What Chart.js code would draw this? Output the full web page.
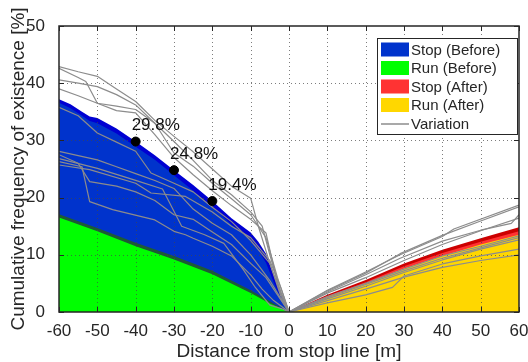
<!DOCTYPE html>
<html>
<head>
<meta charset="utf-8">
<script src="https://cdn.jsdelivr.net/npm/chart.js@4.4.0/dist/chart.umd.min.js"></script>
<style>
  html, body { margin: 0; padding: 0; background: #fff; }
  #wrap { width: 528px; height: 362px; }
</style>
</head>
<body>
<div id="wrap"><canvas id="c" width="528" height="362"></canvas></div>
<script>
// ---- axis ticks ----
const xTickValues = [-60, -50, -40, -30, -20, -10, 0, 10, 20, 30, 40, 50, 60];
const yTickValues = [0, 10, 20, 30, 40, 50];

// ---- before improvement (approach side, negative distance) ----
const stopBeforeX     = [-60, -57, -54, -52, -50, -45, -40, -35, -30, -25, -20, -15, -10, -8, -6, -4, -2, 0];
const stopBeforeEdge  = [37.2, 36.3, 35.0, 34.2, 33.9, 32.1, 29.8, 27.4, 24.8, 22.2, 19.4, 16.4, 13.9, 12.3, 10.2, 6.5, 3.0, 0];
const stopBeforeMain  = [36.6, 35.6, 34.3, 33.4, 33.0, 31.2, 28.9, 26.6, 23.9, 21.2, 18.4, 15.3, 12.6, 10.8, 8.6, 5.2, 2.2, 0];

const runBeforeX      = [-60, -50, -40, -30, -20, -10, -5, 0];
const runBeforeEdge   = [17.1, 14.7, 12.1, 9.8, 7.2, 3.8, 1.9, 0];
const runBeforeMain   = [16.5, 14.1, 11.5, 9.2, 6.6, 3.3, 1.5, 0];

// ---- after improvement (departure side, positive distance) ----
const afterX          = [0, 10, 20, 30, 40, 50, 60];
const stopAfterEdge   = [0, 3.0, 5.6, 8.5, 10.9, 12.9, 14.8];
const stopAfterMain   = [0, 2.8, 5.2, 8.0, 10.3, 12.3, 14.1];
const runAfterMain    = [0, 2.6, 5.0, 7.6, 9.8, 11.8, 13.5];

// ---- labelled points on the stop (before) curve ----
const markX     = [-40, -30, -20];
const markValue = [29.8, 24.8, 19.4];

// ---- variation runs: [distances, values] ----
const variationLeft = [
  [[-60, -55, -50, -45, -40, -35, -30, -25, -20, -15, -10, -8, -5, -2, 0],
   [42.9, 42.0, 41.2, 39.0, 36.8, 33.5, 30.7, 28.0, 25.0, 22.0, 19.9, 15.0, 8.5, 2.5, 0]],
  [[-60, -55, -53, -50, -45, -40, -35, -30, -25, -20, -15, -10, -7, -5, -2, 0],
   [42.6, 41.0, 40.3, 36.5, 36.0, 35.4, 33.0, 29.8, 26.5, 23.0, 20.5, 17.5, 15.0, 10.0, 3.0, 0]],
  [[-60, -55, -50, -45, -40, -35, -30, -25, -20, -15, -10, -6, -3, 0],
   [40.6, 40.0, 39.4, 38.0, 36.2, 33.0, 27.8, 25.5, 22.5, 19.8, 17.0, 13.0, 6.0, 0]],
  [[-60, -55, -50, -45, -40, -35, -30, -25, -20, -15, -10, -6, -3, 0],
   [39.0, 37.8, 36.5, 35.2, 34.8, 31.0, 27.0, 24.0, 21.2, 18.6, 16.2, 13.8, 5.0, 0]],
  [[-60, -55, -50, -45, -40, -36, -30, -25, -20, -15, -10, -5, -2, 0],
   [35.8, 34.3, 31.3, 29.7, 28.1, 24.3, 22.5, 21.0, 18.3, 15.8, 12.5, 8.5, 3.0, 0]],
  [[-60, -54, -52, -46, -35, -30, -27, -25, -20, -15, -10, -7, -4, 0],
   [26.3, 25.4, 19.3, 17.9, 16.1, 14.1, 13.5, 12.9, 11.5, 9.8, 6.5, 4.0, 2.0, 0]],
  [[-60, -52, -40, -36, -27, -20, -15, -10, -5, -2, 0],
   [25.7, 24.9, 22.5, 20.8, 20.2, 17.5, 15.0, 13.0, 9.0, 4.0, 0]],
  [[-60, -50, -45, -40, -35, -30, -25, -20, -15, -10, -5, 0],
   [28.1, 26.6, 25.4, 24.2, 23.0, 21.6, 18.0, 15.5, 13.5, 10.0, 5.5, 0]],
  [[-60, -50, -40, -33, -28, -22, -17, -12, -9, -5, -2, 0],
   [26.8, 25.1, 23.0, 21.5, 15.0, 13.5, 12.0, 7.5, 4.5, 1.2, 0.6, 0]],
  [[-60, -55, -52, -45, -40, -35, -30, -25, -20, -15, -10, -6, -3, 0],
   [27.5, 26.0, 22.8, 22.0, 21.0, 19.5, 17.0, 16.2, 14.0, 11.8, 8.5, 6.0, 3.0, 0]]
];
const variationRight = [
  [[0, 10, 20, 29, 40, 43, 60],        [0, 3.8, 7.0, 10.0, 13.2, 14.5, 18.7]],
  [[0, 10, 20, 29, 40, 50, 60],        [0, 3.7, 6.8, 10.2, 13.4, 15.9, 18.4]],
  [[0, 10, 20, 29, 40, 50, 58, 60],    [0, 3.5, 6.5, 9.4, 12.4, 14.3, 15.5, 17.0]],
  [[0, 10, 20, 30, 40, 50, 60],        [0, 3.3, 6.0, 9.0, 11.8, 14.2, 16.4]],
  [[0, 10, 20, 30, 40, 50, 60],        [0, 2.7, 5.0, 7.5, 9.8, 11.5, 13.3]],
  [[0, 10, 20, 30, 40, 50, 60],        [0, 2.5, 4.8, 7.2, 9.4, 11.2, 13.0]],
  [[0, 10, 20, 30, 40, 50, 60],        [0, 2.3, 4.5, 6.9, 9.1, 11.0, 12.6]],
  [[0, 10, 20, 27, 30, 40, 50, 60],    [0, 1.6, 3.0, 4.3, 6.3, 8.4, 9.8, 11.0]],
  [[0, 10, 20, 30, 40, 50, 60],        [0, 2.0, 4.0, 6.1, 7.8, 9.0, 10.0]]
];

const FONT = '"Liberation Sans", Arial, Helvetica, sans-serif';
const TEXT = '#262626';

const pts = (xs, ys) => xs.map((x, i) => ({ x, y: ys[i] }));

function area(label, xs, ys, color, order) {
  return {
    label, data: pts(xs, ys), order,
    backgroundColor: color, borderColor: 'transparent', borderWidth: 0,
    pointRadius: 0, pointHoverRadius: 0, fill: 'origin', tension: 0
  };
}

const COLORS = {
  stopBefore: '#0033cc', stopBeforeEdge: '#0000d2',
  runBefore: '#00ff00', runBeforeEdge: '#1e5a35',
  stopAfter: '#ff3333', stopAfterEdge: '#cc0000',
  runAfter: '#ffd700', variation: '#8c8c8c'
};

const dsStopBeforeEdge = area('Stop (Before) edge', stopBeforeX, stopBeforeEdge, COLORS.stopBeforeEdge, 9);
const dsStopBefore     = area('Stop (Before)', stopBeforeX, stopBeforeMain, COLORS.stopBefore, 8);
const dsStopAfterEdge  = area('Stop (After) edge', afterX, stopAfterEdge, COLORS.stopAfterEdge, 7);
const dsStopAfter      = area('Stop (After)', afterX, stopAfterMain, COLORS.stopAfter, 6);
const dsRunBeforeEdge  = area('Run (Before) edge', runBeforeX, runBeforeEdge, COLORS.runBeforeEdge, 5);
const dsRunBefore      = area('Run (Before)', runBeforeX, runBeforeMain, COLORS.runBefore, 4);
const dsRunAfter       = area('Run (After)', afterX, runAfterMain, COLORS.runAfter, 3);

const variationSets = variationLeft.concat(variationRight).map(([xs, ys], i) => ({
  label: i === 0 ? 'Variation' : 'Variation ' + (i + 1),
  data: pts(xs, ys), order: 2,
  borderColor: COLORS.variation, borderWidth: 1.2, backgroundColor: COLORS.variation,
  pointRadius: 0, pointHoverRadius: 0, fill: false, tension: 0
}));

const dsMarks = {
  label: 'marks', type: 'scatter', data: pts(markX, markValue), order: 0,
  backgroundColor: '#000', borderColor: '#000', pointRadius: 4.5, showLine: false
};

const legendItems = [
  { text: 'Stop (Before)', ds: dsStopBefore, kind: 'box' },
  { text: 'Run (Before)',  ds: dsRunBefore,  kind: 'box' },
  { text: 'Stop (After)',  ds: dsStopAfter,  kind: 'box' },
  { text: 'Run (After)',   ds: dsRunAfter,   kind: 'box' },
  { text: 'Variation',     ds: variationSets[0], kind: 'line' }
];

// dotted grid laid over the filled areas, under the variation runs
const gridPlugin = {
  id: 'overlayGrid',
  afterDatasetDraw(chart, args) {
    if (chart.data.datasets[args.index] !== dsRunAfter) return;
    const { ctx, chartArea: a, scales: { x, y } } = chart;
    ctx.save();
    ctx.strokeStyle = 'rgba(70,70,70,0.7)';
    ctx.lineWidth = 1;
    ctx.setLineDash([1, 3]);
    ctx.beginPath();
    xTickValues.slice(1, -1).forEach(v => {
      const px = Math.round(x.getPixelForValue(v)) + 0.5;
      ctx.moveTo(px, a.top); ctx.lineTo(px, a.bottom);
    });
    yTickValues.slice(1, -1).forEach(v => {
      const py = Math.round(y.getPixelForValue(v)) + 0.5;
      ctx.moveTo(a.left, py); ctx.lineTo(a.right, py);
    });
    ctx.stroke();
    ctx.restore();
  }
};

// frame with inward tick marks, value labels and the legend box
const decorPlugin = {
  id: 'decor',
  afterDraw(chart) {
    const { ctx, chartArea: a, scales: { x, y } } = chart;
    ctx.save();
    ctx.strokeStyle = TEXT;
    ctx.lineWidth = 1.5;
    ctx.setLineDash([]);
    ctx.strokeRect(a.left, a.top, a.right - a.left, a.bottom - a.top);
    ctx.lineWidth = 1;
    ctx.beginPath();
    const tl = 5;
    xTickValues.forEach(v => {
      const px = Math.round(x.getPixelForValue(v)) + 0.5;
      ctx.moveTo(px, a.bottom); ctx.lineTo(px, a.bottom - tl);
      ctx.moveTo(px, a.top); ctx.lineTo(px, a.top + tl);
    });
    yTickValues.forEach(v => {
      const py = Math.round(y.getPixelForValue(v)) + 0.5;
      ctx.moveTo(a.left, py); ctx.lineTo(a.left + tl, py);
      ctx.moveTo(a.right, py); ctx.lineTo(a.right - tl, py);
    });
    ctx.stroke();

    // value labels beside the marked points
    ctx.fillStyle = '#111';
    ctx.font = '17px ' + FONT;
    ctx.textAlign = 'left';
    ctx.textBaseline = 'middle';
    markX.forEach((mx, i) => {
      const px = x.getPixelForValue(mx);
      const py = y.getPixelForValue(markValue[i]);
      ctx.fillText(markValue[i].toFixed(1) + '%', px - 4, py - 16);
    });

    // legend
    const L = { left: 377, top: 38, width: 140, height: 96 };
    ctx.fillStyle = '#fff';
    ctx.fillRect(L.left, L.top, L.width, L.height);
    ctx.strokeStyle = TEXT;
    ctx.lineWidth = 1;
    ctx.strokeRect(L.left + 0.5, L.top + 0.5, L.width, L.height);
    ctx.font = '15px ' + FONT;
    ctx.textBaseline = 'middle';
    legendItems.forEach((it, i) => {
      const cy = L.top + 11.5 + i * 18.5;
      if (it.kind === 'box') {
        ctx.fillStyle = it.ds.backgroundColor;
        ctx.fillRect(L.left + 4, cy - 7, 28, 14);
      } else {
        ctx.strokeStyle = it.ds.borderColor;
        ctx.lineWidth = 1.5;
        ctx.beginPath();
        ctx.moveTo(L.left + 4, cy + 0.5); ctx.lineTo(L.left + 32, cy + 0.5);
        ctx.stroke();
      }
      ctx.fillStyle = TEXT;
      ctx.fillText(it.text, L.left + 34, cy + 1);
    });
    ctx.restore();
  }
};

new Chart(document.getElementById('c'), {
  type: 'line',
  data: {
    datasets: [dsMarks, ...variationSets, dsRunAfter, dsRunBefore, dsRunBeforeEdge,
               dsStopAfter, dsStopAfterEdge, dsStopBefore, dsStopBeforeEdge]
  },
  options: {
    responsive: false,
    animation: false,
    devicePixelRatio: 1,
    layout: { padding: { top: 26, right: 9, bottom: 0, left: 0 } },
    plugins: { legend: { display: false }, tooltip: { enabled: false } },
    elements: { line: { borderJoinStyle: 'round' } },
    scales: {
      x: {
        type: 'linear', min: -60, max: 60,
        afterBuildTicks(s) { s.ticks = xTickValues.map(v => ({ value: v })); },
        afterFit(s) { s.height = 50; s.paddingLeft = 0; s.paddingRight = 0; },
        grid: { display: false }, border: { display: false },
        ticks: { font: { family: FONT, size: 17 }, color: TEXT, padding: 1, maxRotation: 0, autoSkip: false },
        title: { display: true, text: 'Distance from stop line [m]', color: TEXT,
                 font: { family: FONT, size: 19, lineHeight: 1.05 }, padding: { top: 0, bottom: 0 } }
      },
      y: {
        type: 'linear', min: 0, max: 50,
        afterBuildTicks(s) { s.ticks = yTickValues.map(v => ({ value: v })); },
        afterFit(s) { s.width = 59; s.paddingTop = 0; s.paddingBottom = 0; },
        grid: { display: false }, border: { display: false },
        ticks: { font: { family: FONT, size: 17 }, color: TEXT, padding: 6 },
        title: { display: true, text: 'Cumulative frequency of existence [%]', color: TEXT,
                 font: { family: FONT, size: 19, lineHeight: 1 }, padding: { top: 9, bottom: 0 } }
      }
    }
  },
  plugins: [gridPlugin, decorPlugin]
});
</script>
</body>
</html>
